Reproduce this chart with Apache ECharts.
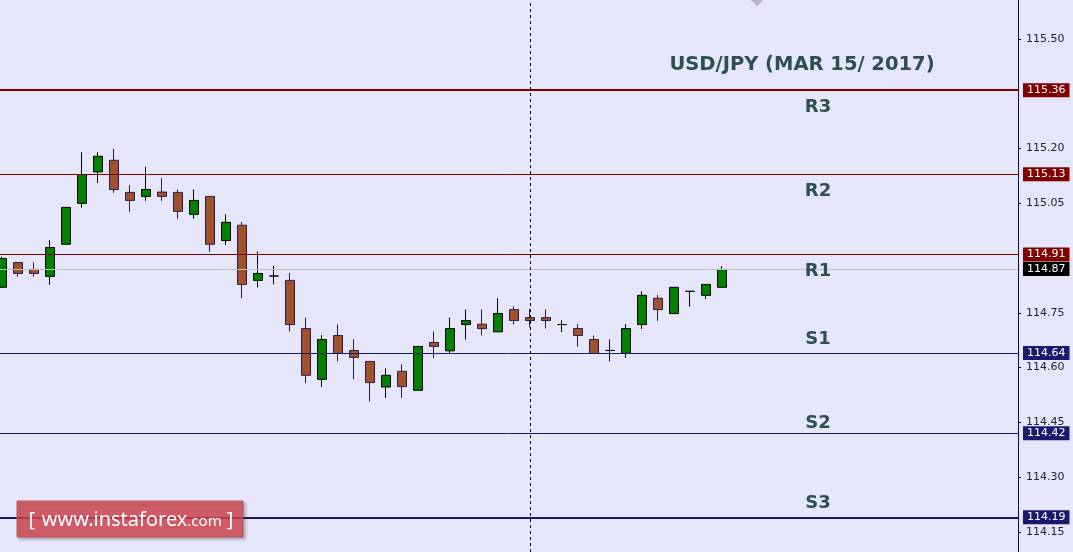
<!DOCTYPE html>
<html><head><meta charset="utf-8">
<script src="https://cdn.jsdelivr.net/npm/echarts@6/dist/echarts.min.js"></script>
<style>html,body{margin:0;padding:0;background:#e6e6fa}#c{width:1073px;height:552px}</style>
</head><body><div id="c"></div>
<script>
// ---- data ----
const slotCount = 64;                 // category slots on the x axis (candles + empty space on the right)
// [open, close, low, high]
const candles = [
  [114.820,114.899,114.818,114.904],
  [114.888,114.858,114.849,114.889],
  [114.869,114.858,114.849,114.889],
  [114.850,114.929,114.827,114.949],
  [114.938,115.039,114.938,115.039],
  [115.050,115.129,115.038,115.190],
  [115.136,115.179,115.106,115.190],
  [115.168,115.088,115.079,115.199],
  [115.080,115.058,115.027,115.100],
  [115.069,115.088,115.057,115.150],
  [115.081,115.069,115.057,115.119],
  [115.080,115.028,115.008,115.088],
  [115.020,115.058,115.008,115.088],
  [115.069,114.938,114.917,115.069],
  [114.948,114.998,114.936,115.020],
  [114.990,114.828,114.790,114.999],
  [114.839,114.858,114.820,114.918],
  [114.851,114.851,114.828,114.878],
  [114.839,114.718,114.699,114.859],
  [114.707,114.579,114.558,114.737],
  [114.568,114.677,114.547,114.689],
  [114.688,114.639,114.617,114.718],
  [114.647,114.628,114.568,114.678],
  [114.617,114.559,114.507,114.617],
  [114.547,114.579,114.517,114.598],
  [114.590,114.548,114.517,114.609],
  [114.538,114.658,114.538,114.658],
  [114.669,114.658,114.627,114.699],
  [114.646,114.707,114.639,114.737],
  [114.718,114.729,114.677,114.759],
  [114.719,114.707,114.688,114.760],
  [114.698,114.748,114.698,114.790],
  [114.759,114.729,114.718,114.768],
  [114.737,114.729,114.710,114.760],
  [114.737,114.729,114.707,114.760],
  [114.718,114.718,114.697,114.730],
  [114.707,114.688,114.657,114.719],
  [114.677,114.639,114.639,114.688],
  [114.647,114.647,114.617,114.677],
  [114.639,114.707,114.627,114.719],
  [114.718,114.798,114.706,114.809],
  [114.790,114.759,114.728,114.799],
  [114.748,114.820,114.748,114.820],
  [114.809,114.809,114.767,114.809],
  [114.798,114.828,114.788,114.828],
  [114.820,114.869,114.820,114.878]
];
const levelNames  = ['R3', 'R2', 'R1', 'S1', 'S2', 'S3'];
const levelValues = [115.36, 115.13, 114.91, 114.64, 114.42, 114.19];
const currentPrice = 114.87;
const yTickValues = [114.15, 114.30, 114.45, 114.60, 114.75, 115.05, 115.20, 115.50];
const yMin = 114.095, yMax = 115.607;
const dividerIndex = 33;
const labelSlot = 51;
const chartTitle = 'USD/JPY (MAR 15/ 2017)';
const watermark = 'www.instaforex';

// ---- build ----
const categories = [];
for (let i = 0; i < slotCount; i++) categories.push('c' + i);

const RED = '#800000', NAVY = '#191970';
const labelOffsets = [17, 17, 17, -14, -10, -14];
const candleData = candles.map(c => {
  if (c[0] === c[1]) {
    return { value: c, itemStyle: { borderColor: '#000', borderColor0: '#000', color: '#000', color0: '#000' } };
  }
  return c;
});

const tagLabel = (text, bg) => ({
  show: true, position: 'end', distance: 5, formatter: text,
  backgroundColor: bg, color: '#fff', padding: [2, 4, 1, 4],
  fontFamily: 'DejaVu Sans', fontSize: 11
});

const markLines = levelValues.map((v, i) => {
  const isR = levelNames[i][0] === 'R';
  const col = isR ? RED : NAVY;
  const w = (i === 0 || i === levelValues.length - 1) ? 2 : 1;
  return { yAxis: v, lineStyle: { color: col, width: w, type: 'solid' }, label: tagLabel(v.toFixed(2), col) };
});
markLines.push({
  yAxis: currentPrice,
  lineStyle: { color: '#c0c0c0', width: 1, type: 'solid' },
  label: tagLabel(currentPrice.toFixed(2), '#000')
});
markLines.push({
  xAxis: categories[dividerIndex],
  lineStyle: { color: '#000', width: 1, type: [3, 3] },
  label: { show: false }
});

const markPoints = levelValues.map((v, i) => ({
  coord: [categories[labelSlot], v],
  label: { show: true, formatter: levelNames[i], offset: [0, labelOffsets[i]] }
}));

const chart = echarts.init(document.getElementById('c'), null, { renderer: 'canvas' });
chart.setOption({
  animation: false,
  backgroundColor: '#e6e6fa',
  grid: { left: -6, right: 55, top: 0, bottom: 0, outerBoundsMode: 'none', containLabel: false },
  xAxis: { type: 'category', data: categories, boundaryGap: true, show: false },
  yAxis: {
    type: 'value', position: 'right', min: yMin, max: yMax, scale: true,
    axisLine: { show: true, lineStyle: { color: '#101030', width: 1 } },
    axisTick: { show: true, length: 3, customValues: yTickValues, lineStyle: { color: '#101030' } },
    axisLabel: { show: true, customValues: yTickValues, margin: 8, color: '#222233',
      fontFamily: 'DejaVu Sans', fontSize: 11, formatter: v => v.toFixed(2),
      showMinLabel: true, showMaxLabel: true },
    splitLine: { show: false }
  },
  graphic: [
    { type: 'text', z: 10, x: 802, y: 65,
      style: { text: chartTitle, fill: '#2f4f4f', align: 'center', verticalAlign: 'middle',
        font: 'bold 19.5px "DejaVu Sans", Verdana, sans-serif' } },
    { type: 'polygon', z: 10, shape: { points: [[751, 0], [763, 0], [757, 6]] }, style: { fill: '#b4b4c4' } },
    { type: 'rect', z: 20, shape: { x: 17, y: 501, width: 226, height: 36 },
      style: { fill: 'rgba(215,70,80,0.8)', stroke: 'rgba(190,80,90,0.9)', lineWidth: 1,
        shadowBlur: 3, shadowOffsetX: 2, shadowOffsetY: 2, shadowColor: 'rgba(0,0,0,0.3)' } },
    { type: 'text', z: 21, x: 131, y: 520,
      style: { text: '{b|[}  {a|' + watermark + '}{c|.com}{b| ]}', align: 'center', verticalAlign: 'middle',
        rich: {
          a: { fill: '#fff', font: '20px "Noto Sans", "Open Sans", sans-serif' },
          b: { fill: '#fff', font: '20px "Noto Sans", "Open Sans", sans-serif' },
          c: { fill: '#fff', font: '15px "Noto Sans", "Open Sans", sans-serif', padding: [4, 0, 0, 0] }
        } } }
  ],
  series: [{
    type: 'candlestick',
    data: candleData,
    barWidth: 9,
    clip: false,
    itemStyle: {
      color: '#008000', color0: '#a0522d',
      borderColor: '#000000', borderColor0: '#2c1c4c', borderWidth: 1
    },
    emphasis: { disabled: true },
    markLine: { silent: true, symbol: ['none', 'none'], animation: false, data: markLines },
    markPoint: {
      silent: true, symbol: 'circle', symbolSize: 1, animation: false,
      itemStyle: { color: 'rgba(0,0,0,0)' },
      label: { color: '#2f4f4f', fontWeight: 'bold', fontSize: 18, fontFamily: '"DejaVu Sans", Verdana, sans-serif' },
      data: markPoints
    }
  }]
});
</script></body></html>
